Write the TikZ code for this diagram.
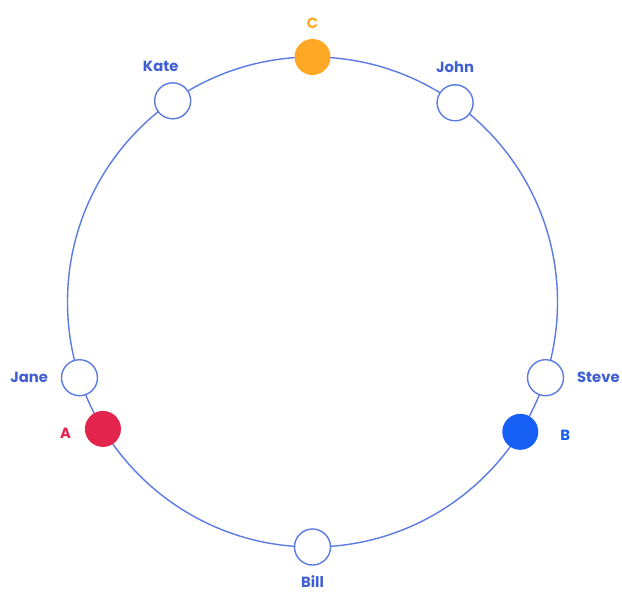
\documentclass[tikz,border=0pt]{standalone}
\usepackage{fontspec}
\setmainfont{Poppins}
\usepackage{tikz}
\usetikzlibrary{positioning}

\definecolor{ringblue}{HTML}{5B7BE2}
\definecolor{namblue}{HTML}{3F5ED3}
\definecolor{corange}{HTML}{FFA826}
\definecolor{ared}{HTML}{E3244C}
\definecolor{bblue}{HTML}{1660F5}

\tikzset{
  server/.style={circle, draw=ringblue, line width=1pt, fill=white, minimum size=0.9cm, inner sep=0pt},
  keydot/.style={circle, minimum size=0.9cm, inner sep=0pt},
  tag/.style={font=\fontsize{10.5}{13}\selectfont\bfseries, text=namblue, inner sep=1pt}
}

\begin{document}
\begin{tikzpicture}[x=0.025cm, y=0.025cm]
    \useasboundingbox (-312.5,-290) rectangle (309.5,302);

    % Ring
    \draw[ringblue, line width=1pt] (0,0) circle (245);

    % Servers
    \node[server] (kate)  at (124.8:245) {};
    \node[server] (john)  at (54.4:245) {};
    \node[server] (jane)  at (198:245) {};
    \node[server] (steve) at (342:245) {};
    \node[server] (bill)  at (270:245) {};

    % Keys
    \node[keydot, fill=corange] (c) at (90:245) {};
    \node[keydot, fill=ared] (a) at (211.2:245) {};
    \node[keydot, fill=bblue] (b) at (328:245) {};

    % Labels
    \node[tag, above=0.22cm of kate, xshift=-0.3cm] (katelbl) {Kate};
    \node[tag, above=0.24cm of john] (johnlbl) {John};
    \node[tag, left=0.28cm of jane] (janelbl) {Jane};
    \node[tag, right=0.28cm of steve] (stevelbl) {Steve};
    \node[tag, below=0.21cm of bill] (billlbl) {Bill};
    \node[tag, text=corange, above=0.22cm of c] (clbl) {C};
    \node[tag, text=ared, left=0.3cm of a, yshift=-0.12cm] (albl) {A};
    \node[tag, text=bblue, right=0.5cm of b, yshift=-0.08cm] (blbl) {B};
\end{tikzpicture}
\end{document}
